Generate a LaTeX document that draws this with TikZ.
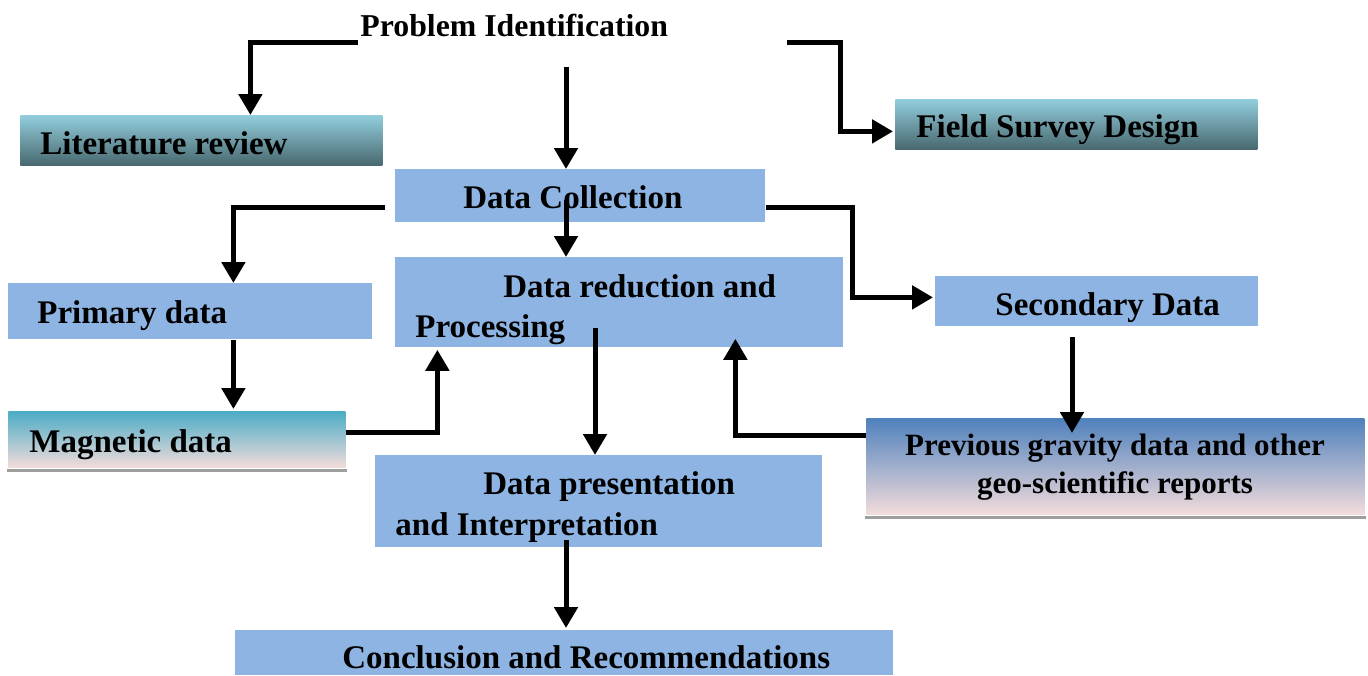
\documentclass[tikz,border=0pt]{standalone}
\usepackage{fontspec}
\setmainfont{Liberation Serif}
\usetikzlibrary{arrows.meta}
\definecolor{boxblue}{RGB}{142,180,227}
\definecolor{tealtop}{RGB}{146,205,221}
\definecolor{tealbot}{RGB}{72,104,110}
\definecolor{cyantop}{RGB}{75,172,198}
\definecolor{bluetop}{RGB}{79,129,189}
\definecolor{pinkbot}{RGB}{242,220,219}
\tikzset{
  flow/.style={line width=2.5pt, line join=miter, -{Triangle[width=11.5pt,length=10.5pt]}},
  plainbox/.style={fill=boxblue, anchor=north west, inner sep=0pt},
  tealbox/.style={top color=tealtop, middle color=tealtop!75!tealbot, bottom color=tealbot, anchor=north west, inner sep=0pt},
  pinkbox/.style={top color=#1, middle color=#1!35!pinkbot, bottom color=pinkbot, anchor=north west, inner sep=0pt},
  shade line/.style={draw=black!38, line width=1.6pt},
  lbl/.style={anchor=base west, inner sep=0pt, font=\bfseries\fontsize{16.5}{20}\selectfont},
}
\begin{document}
\begin{tikzpicture}[x=0.5pt,y=-0.5pt]
\useasboundingbox (0,0) rectangle (1368,675);
% boxes
\node[tealbox, minimum width=181pt, minimum height=25pt] (lit) at (20,115) {};
\node[tealbox, minimum width=181pt, minimum height=25pt] (fsd) at (895,99) {};
\node[plainbox, minimum width=185pt, minimum height=26.5pt] (dc) at (395,169) {};
\node[plainbox, minimum width=224pt, minimum height=45pt] (dr) at (395,257) {};
\node[plainbox, minimum width=182pt, minimum height=28pt] (prim) at (8,283) {};
\node[plainbox, minimum width=161.5pt, minimum height=25pt] (sec) at (935,276) {};
\node[pinkbox=cyantop, minimum width=168.5pt, minimum height=28pt] (mag) at (8,411) {};
\node[pinkbox=bluetop, minimum width=249pt, minimum height=48pt] (prev) at (866,418) {};
\node[plainbox, minimum width=223.5pt, minimum height=46pt] (dp) at (375,455) {};
\node[plainbox, minimum width=329pt, minimum height=22.5pt] (conc) at (235,630) {};
\draw[shade line] ([xshift=-0.5pt,yshift=-1.2pt]mag.south west) -- ([xshift=0.5pt,yshift=-1.2pt]mag.south east);
\draw[shade line] ([xshift=-0.5pt,yshift=-1.2pt]prev.south west) -- ([xshift=0.5pt,yshift=-1.2pt]prev.south east);
% texts
\node[lbl, font=\bfseries\fontsize{15.9}{18}\selectfont] (probT) at (360,36) {Problem Identification};
\node[lbl] (litT) at (40,154) {Literature review};
\node[lbl] (fsdT) at (916,137) {Field Survey Design};
\node[lbl] (dcT) at (463,208) {Data Collection};
\node[lbl] (drT) at (503,297) {Data reduction and};
\node[lbl] (drT2) at (415,337) {Processing};
\node[lbl] (primT) at (37,323) {Primary data};
\node[lbl] (secT) at (995,315) {Secondary Data};
\node[lbl] (magT) at (29,452) {Magnetic data};
\node[lbl, anchor=base, font=\bfseries\fontsize{15.5}{19}\selectfont] (prevT) at (1115,455) {Previous gravity data and other};
\node[lbl, anchor=base, font=\bfseries\fontsize{15.5}{19}\selectfont] (prevT2) at (1115,493) {geo-scientific reports};
\node[lbl] (dpT) at (483,494) {Data presentation};
\node[lbl] (dpT2) at (395,535) {and Interpretation};
\node[lbl] (concT) at (342,668) {Conclusion and Recommendations};
% connectors
\coordinate (pl) at (358,42);
\coordinate (pr) at (787,42);
\coordinate (pd) at (566,67);
\coordinate (dcl) at (385,207);
\coordinate (dcd) at (566,200);
\coordinate (sp) at (1072,337);
\coordinate (drd) at (595,328);
\coordinate (dpd) at (566,540);
\draw[flow] (pl) -| ([xshift=24.5pt]lit.north);
\draw[flow] (pr) -- ++(53,0) |- ([yshift=-3.5pt,xshift=-1pt]fsd.west);
\draw[flow] (pd) -- (pd |- dc.north);
\draw[flow] (dcl) -| ([xshift=21.5pt]prim.north);
\draw[flow] (dcd) -- (dcd |- dr.north);
\draw[flow] ([yshift=-5.75pt]dc.east) -- ++(87,0) |- ([yshift=2pt,xshift=-1pt]sec.west);
\draw[flow] ([xshift=21.5pt]prim.south) coordinate (pm) -- ([yshift=1pt]pm |- mag.north);
\draw[flow] ([yshift=3.5pt]mag.east) -| ([xshift=-91pt,yshift=-1pt]dr.south);
\draw[flow] (sp) -- ([yshift=-7.5pt]sp |- prev.north);
\draw[flow] ([yshift=15.5pt]prev.west) -| ([xshift=58pt,yshift=4.5pt]dr.south);
\draw[flow] (drd) -- (drd |- dp.north);
\draw[flow] (dpd) -- ([yshift=1pt]dpd |- conc.north);
\end{tikzpicture}
\end{document}
